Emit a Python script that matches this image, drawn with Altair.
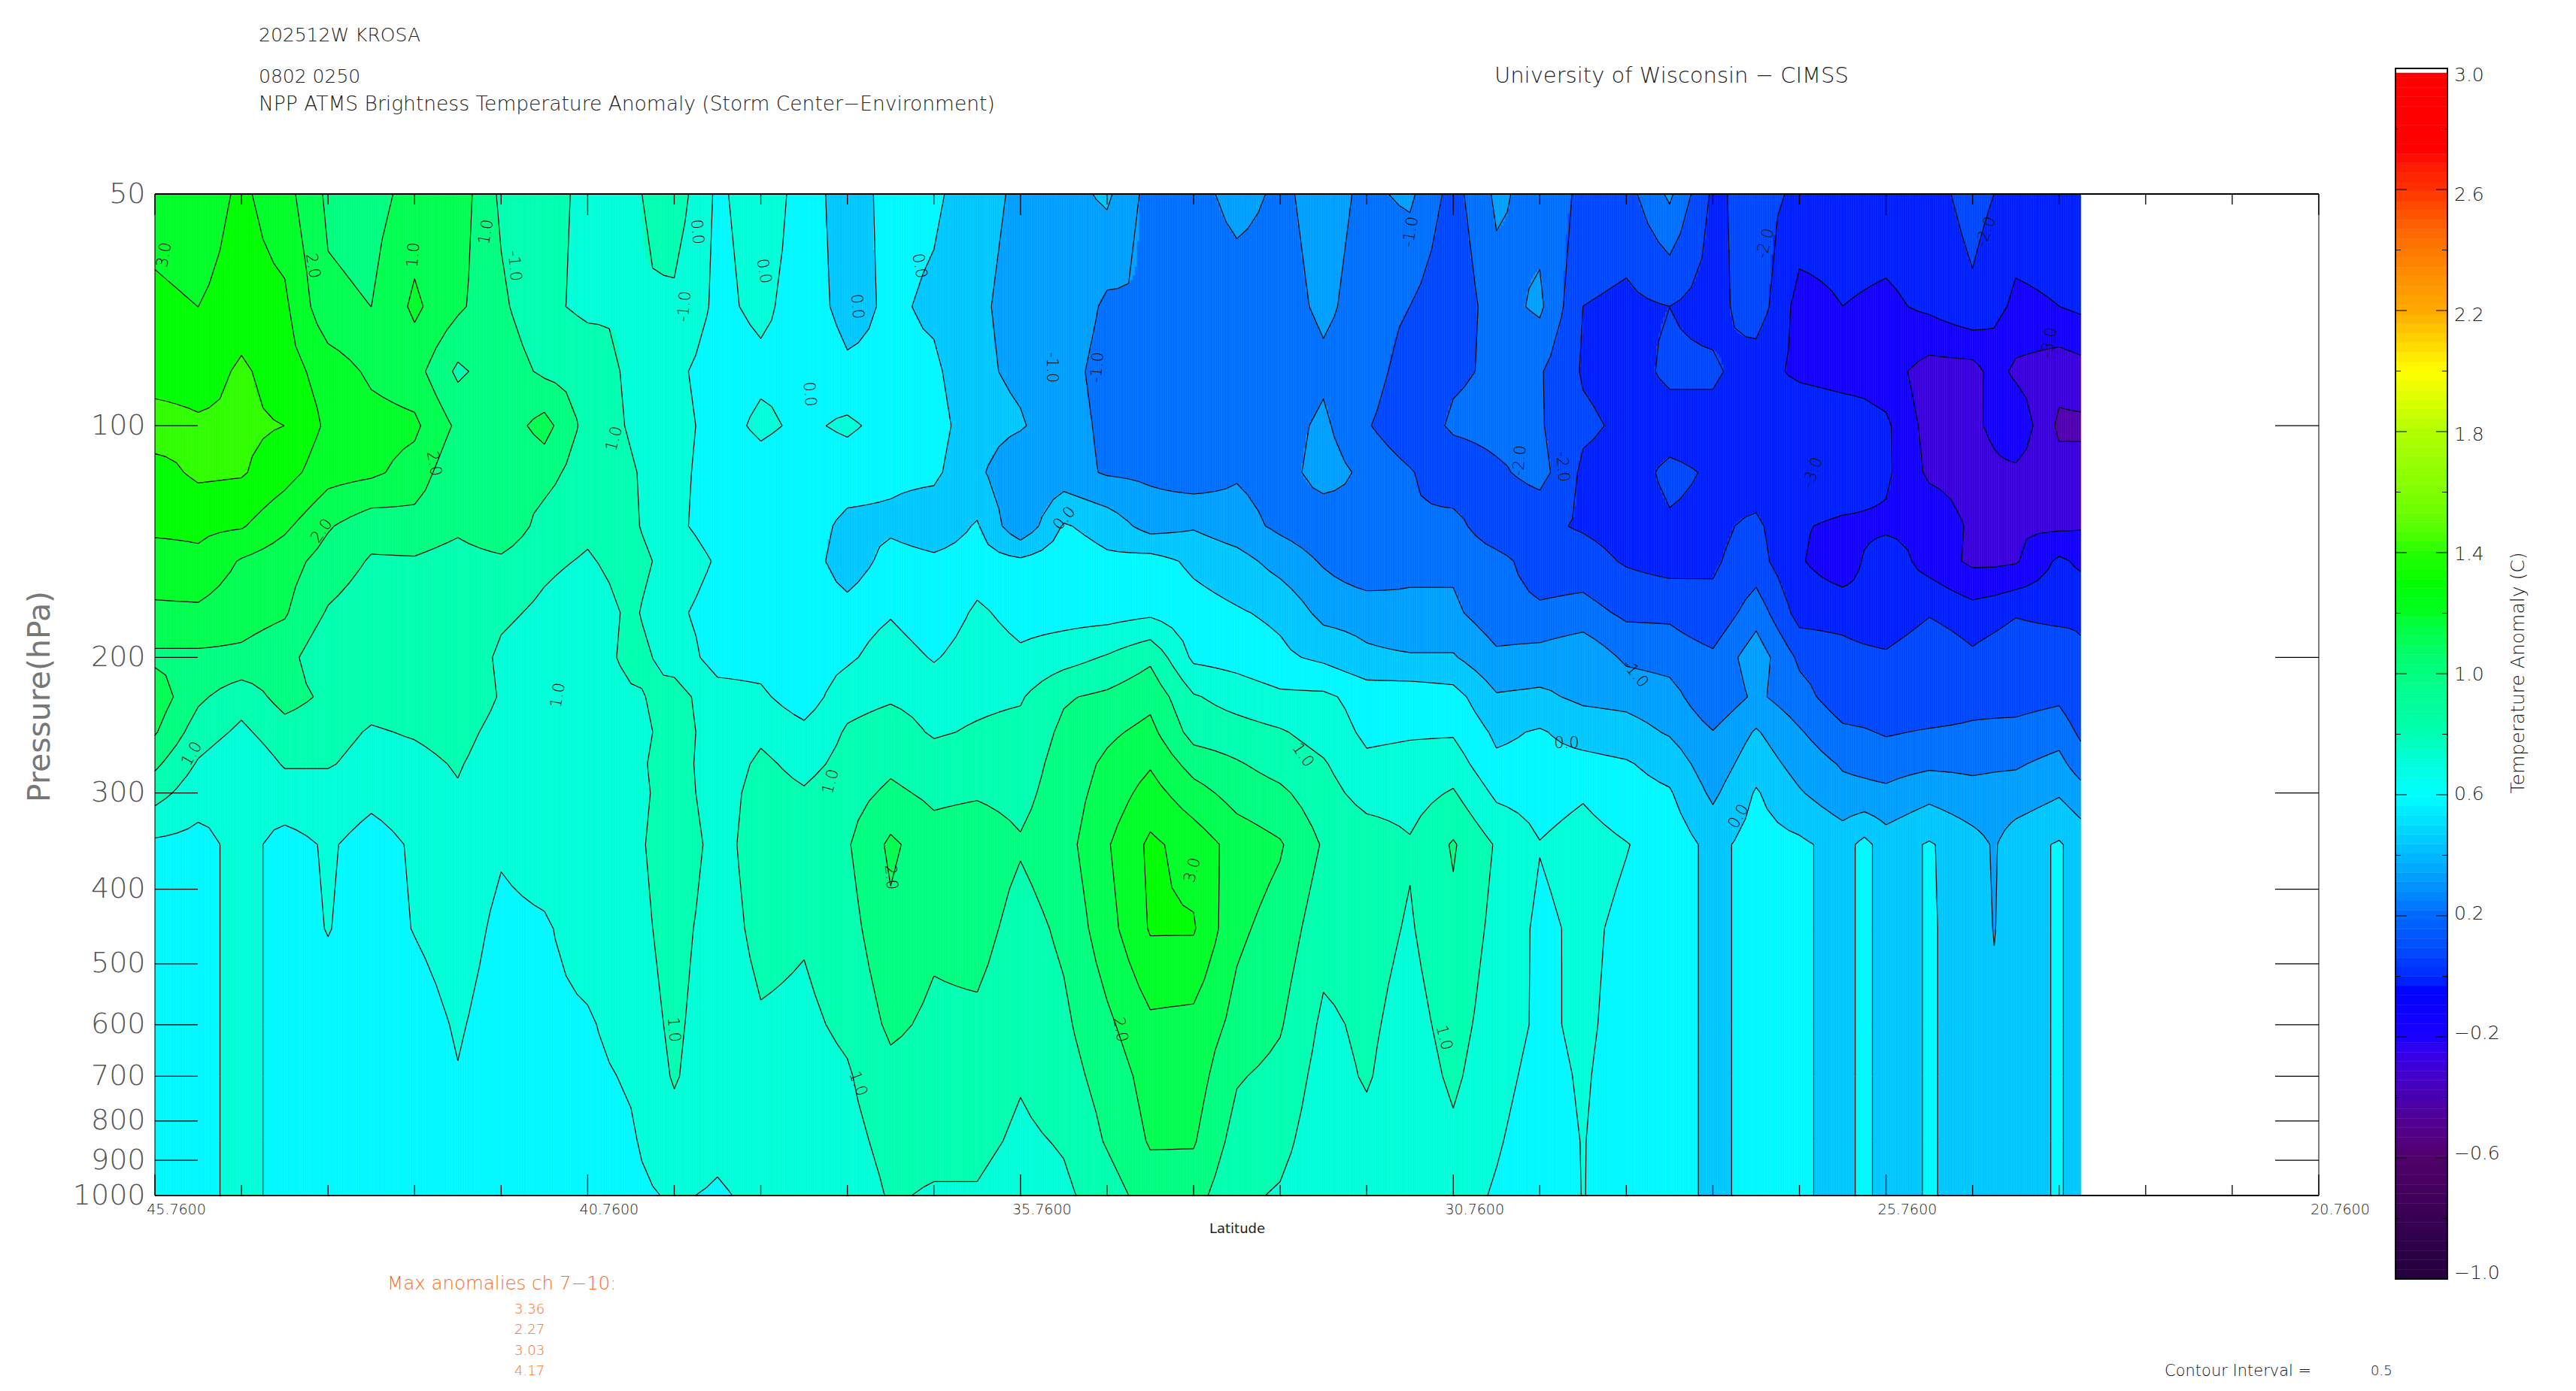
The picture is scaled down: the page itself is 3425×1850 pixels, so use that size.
import math
import altair as alt

alt.data_transformers.disable_max_rows()

# ---------- values ----------
LATS = [45.76 - 0.5 * i for i in range(40)] + [26.01, 25.76, 25.26, 24.76, 24.51, 24.26, 23.76, 23.51]
LEVELS = [50, 70, 85, 100, 115, 135, 150, 175, 200, 225, 250, 275, 300, 350, 450, 600, 700, 850, 1000]

P50 = [2.8,2.7,3.1,2.7,1.9,1.8,2.2,2.3,1.4,1.3,0.8,0.9,1.3,0.4,0.8,0.3,
       -0.3,0.2,0.1,-0.3,-0.6,-0.7,-0.4,-1.2,-1.2,-0.8,-1.1,-0.8,-1.1,-0.9,-1.7,-0.9,
       -1.2,-1.6,-1.7,-0.9,-2.1,-1.8,-2.1,-2.2,-2.2,-2.2,-2.2,-1.8,-2.0,-2.2,-2.2,-2.2]
P70 = [3.1,3.0,3.2,3.1,2.1,2.0,2.6,2.1,1.6,1.1,0.9,1.0,0.9,0.4,0.6,0.3,
       -0.2,0.1,-0.1,-0.4,-0.7,-0.6,-1.1,-1.0,-1.3,-1.3,-1.2,-0.9,-1.2,-1.5,-1.9,-1.2,
       -0.9,-2.0,-2.1,-2.0,-2.2,-1.7,-2.7,-2.5,-2.55,-2.6,-2.4,-2.1,-2.35,-2.6,-2.5,-2.4]
P85 = [3.2,3.2,3.6,3.2,2.8,2.4,2.2,1.4,1.8,1.4,1.3,0.9,0.6,0.3,0.4,0.45,
       0.1,0.1,0.1,-0.4,-0.6,-0.8,-1.2,-1.1,-1.4,-1.45,-1.4,-1.1,-1.2,-1.8,-1.6,-1.4,
       -1.45,-2.05,-2.2,-1.9,-1.9,-2.3,-2.6,-2.7,-2.7,-2.8,-3.2,-3.2,-2.8,-3.1,-3.3,-3.2]
P100 = [3.8,3.6,3.6,3.5,2.9,2.7,2.6,1.9,1.7,2.2,1.3,0.95,0.7,0.3,0.6,0.4,
        0.6,0.3,0.2,-0.3,-0.45,-0.8,-1.1,-1.3,-1.1,-1.1,-1.2,-0.9,-1.45,-1.9,-1.4,-1.3,
        -1.45,-1.9,-2.1,-2.2,-2.2,-2.45,-2.1,-2.2,-2.3,-2.4,-3.2,-3.1,-2.9,-2.6,-3.6,-3.6]
P115 = [3.3,3.6,3.55,3.2,2.7,2.6,2.3,1.6,1.6,1.7,1.2,1.05,0.7,0.2,0.3,0.2,
        0.2,0.1,0.1,-0.4,-0.9,-0.8,-1.05,-1.1,-1.3,-1.05,-1.2,-0.8,-1.1,-1.45,-1.9,-1.6,
        -1.3,-2.1,-2.2,-1.9,-2.05,-2.3,-2.1,-2.1,-2.25,-2.4,-3.1,-3.2,-3.1,-3.1,-3.3,-3.3]
P135 = [3.1,3.1,3.05,2.6,2.05,1.7,1.8,1.6,1.9,1.3,1.1,1.1,0.6,0.3,0.2,0.2,
        -0.1,-0.1,-0.3,0.05,-0.9,0.05,-0.2,-0.7,-0.55,-0.8,-1.1,-1.3,-1.05,-1.45,-1.3,-1.9,
        -1.9,-2.05,-2.2,-2.05,-2.1,-1.9,-2.45,-2.6,-2.6,-2.6,-2.6,-3.1,-3.05,-3.05,-3.1,-3.05]
P150 = [2.8,2.9,2.45,2.2,1.8,1.45,1.45,1.3,1.4,1.1,0.95,1.2,0.8,0.45,0.3,0.3,
        -0.3,0.2,0.1,0.2,0.1,0.3,0.1,0.2,-0.1,-0.3,-0.7,-1.05,-1.4,-1.1,-1.1,-1.3,
        -1.8,-1.8,-2.05,-2.2,-2.05,-1.8,-2.45,-2.8,-2.45,-2.2,-2.7,-3.1,-3.1,-3.05,-2.4,-2.6]
P175 = [2.4,2.4,2.2,2.05,1.45,1.2,1.4,1.3,1.1,0.9,0.7,1.1,0.6,0.3,0.3,0.3,
        0.2,0.45,0.1,0.6,0.3,0.3,0.3,0.4,0.2,0.05,-0.1,-0.65,-0.7,-0.9,-0.9,-1.3,
        -1.4,-1.3,-1.6,-1.6,-1.9,-1.2,-2.2,-2.2,-2.35,-2.45,-2.05,-2.3,-2.2,-2.05,-2.2,-2.1]
P200 = [1.9,1.9,1.9,1.7,1.1,1.05,1.05,1.4,0.9,0.7,0.6,1.2,0.8,0.3,0.3,0.2,
        0.4,0.8,0.45,0.8,0.6,0.8,1.05,1.4,0.4,0.3,0.1,-0.1,-0.4,-0.45,-0.45,-0.9,
        -0.8,-0.6,-1.1,-1.2,-1.4,-0.7,-1.6,-1.8,-1.85,-1.9,-1.55,-1.9,-1.75,-1.6,-1.55,-1.9]
P225 = [2.3,1.6,1.2,1.7,1.4,1.2,1.3,1.45,0.95,0.8,0.6,0.9,1.2,0.7,0.6,0.2,
        0.85,0.95,0.85,0.9,0.95,1.45,1.6,1.85,1.05,0.8,0.6,0.6,0.3,0.3,0.2,-0.45,
        -0.4,-0.6,-0.65,-0.8,-1.4,-0.9,-1.3,-1.8,-1.85,-1.9,-1.9,-1.7,-1.7,-1.7,-1.6,-1.9]
P250 = [2.05,1.25,0.9,1.3,1.2,0.95,1.05,1.2,0.8,0.7,0.8,0.7,1.3,0.7,0.9,0.65,
        1.05,1.2,0.95,1.05,1.15,1.6,1.9,2.15,1.3,1.2,1.05,0.8,0.4,0.45,0.45,-0.1,
        0.05,-0.2,-0.3,-0.55,-0.98,-0.45,-0.95,-1.4,-1.45,-1.55,-1.45,-1.4,-1.37,-1.35,-1.2,-1.6]
P275 = [1.6,0.95,0.6,1.05,1.05,0.8,0.85,1.05,0.7,0.6,0.7,0.85,1.25,0.7,1.1,0.85,
        1.15,1.4,1.2,1.3,1.25,1.7,2.1,2.45,1.8,1.55,1.3,1.05,0.6,0.65,0.75,0.1,
        0.15,0.15,0.05,-0.2,-0.8,-0.2,-0.7,-1.05,-1.12,-1.2,-1.1,-1.1,-1.07,-1.05,-0.85,-1.25]
P300 = [1.2,0.7,0.53,0.75,0.75,0.6,0.7,0.95,0.6,0.53,0.7,0.8,1.25,0.75,1.2,1.05,
        1.3,1.6,1.4,1.45,1.35,1.75,2.2,2.7,2.2,1.8,1.6,1.2,0.8,0.8,1.05,0.4,
        0.3,0.45,0.2,0.05,-0.6,0.05,-0.45,-0.85,-0.87,-0.9,-0.65,-0.85,-0.82,-0.8,-0.55,-0.8]
P350 = [.4,.35,.65,.35,.55,.35,.55,.75,.55,.7,.75,.8,1.4,.8,1.25,1.15,
        1.45,2.1,1.7,1.8,1.55,1.8,2.45,3.1,2.8,2.3,2.05,1.45,1.3,1.05,1.55,.95,
        .52,.7,.52,.3,-.15,.2,.1,-.2,.15,-.25,.05,-.3,-.55,-.2,.05,-.2]
P450 = [.3,.3,.7,.3,.52,.3,.52,.7,.4,.45,.7,.8,1.2,.75,1.15,1.05,
        1.3,1.9,1.6,1.7,1.3,1.6,2.3,3.05,3.05,2.1,1.8,1.2,1.2,.95,1.4,.85,
        .4,.6,.4,.3,-.15,.2,.1,-.2,.15,-.25,.05,-.2,-.52,-.2,.05,-.2]
P600 = [.3,.3,.7,.3,.3,.3,.3,.55,.3,.4,.45,.7,1.1,.7,.95,.9,
        1.1,1.6,1.4,1.4,1.15,1.4,1.9,2.4,2.35,1.85,1.55,.9,1.1,.8,1.2,.75,
        .42,.58,.35,.3,-.15,.2,.1,-.2,.15,-.25,.05,-.2,-.4,-.2,.05,-.2]
P700 = [.3,.3,.7,.3,.3,.3,.3,.48,.3,.35,.4,.55,1.05,.65,.8,.8,
        .95,1.35,1.3,1.3,1.05,1.3,1.7,2.2,2.25,1.55,1.35,.8,1.05,.7,1.1,.65,
        .35,.55,.3,.3,-.15,.2,.1,-.2,.15,-.25,.05,-.2,-.3,-.2,.05,-.2]
P850 = [.3,.3,.7,.3,.3,.3,.3,.3,.3,.3,.3,.45,.8,.6,.7,.7,
        .85,1.15,1.15,1.15,.9,1.05,1.55,2.05,2.05,1.3,1.15,.7,.85,.65,.9,.55,
        .25,.52,.25,.3,-.15,.2,.1,-.2,.15,-.25,.05,-.2,-.25,-.2,.05,-.2]
P1000 = [.3,.3,.7,.3,.3,.3,.3,.3,.3,.3,.3,.4,.55,.45,.6,.55,
         .7,1.05,.95,.95,.7,.9,1.25,1.75,1.7,1.1,.95,.65,.7,.6,.7,.45,
         .1,.52,.2,.3,-.15,.2,.1,-.2,.15,-.25,.05,-.2,-.22,-.2,.05,-.2]
GRID = [P50,P70,P85,P100,P115,P135,P150,P175,P200,P225,P250,P275,P300,P350,P450,P600,P700,P850,P1000]
for r in GRID:
    assert len(r) == len(LATS)

BAND_COLORS = ["#5000b0","#3a00dd","#1400ff","#0020ff","#0048ff","#0070ff","#00a0ff","#00c8ff",
               "#00f8ff","#00ffd8","#00ffb0","#00ff80","#00ff50","#00ff28","#00ff00","#30ff00"]

CB_VALS = [-1.0,-0.6,-0.4,-0.2,-0.05,0.2,0.4,0.6,0.8,1.0,1.2,1.3,1.4,1.8,2.0,2.2,2.6,2.72,3.0]
CB_COLS = ["#000000","#50006a","#4800b0","#1800ff","#0000ff","#0068ff","#00b8ff","#00ffff","#00ffb0",
           "#00ff80","#00ff20","#00ff00","#20ff00","#b0ff00","#ffff00","#ffaa00","#ff3000","#ff0000","#ff0000"]
CB_MAJOR = [3.0,2.6,2.2,1.8,1.4,1.0,0.6,0.2,-0.2,-0.6,-1.0]
CB_MINOR = [2.8,2.4,2.0,1.6,1.2,0.8,0.4,0.0,-0.4,-0.8]

Y_TICKS = [100,200,300,400,500,600,700,800,900]
Y_LABELS = [50,100,200,300,400,500,600,700,800,900,1000]
X_MAJOR = [45.76,40.76,35.76,30.76,25.76,20.76]
X_MINOR = [45.76 - i for i in range(26) if i % 5]

CONTOUR_LABELS = [
    (45.65,60,"3.0",280),(43.94,62,"2.0",80),(42.77,60,"1.0",275),(41.93,56,"1.0",280),(41.61,62,"-1.0",85),
    (39.50,56,"0.0",85),(39.64,70,"-1.0",275),(38.73,63,"0.0",80),(36.93,62,"0.0",80),(37.65,70,"0.0",85),
    (38.2,91,"0.0",85),(42.54,112,"2.0",80),(43.83,137,"2.0",305),(40.45,104,"1.0",285),(41.1,224,"1.0",280),
    (45.33,267,"1.0",300),(37.95,290,"1.0",285),(37.26,386,"2.0",85),(33.77,378,"3.0",285),(34.61,609,"2.0",80),
    (37.64,716,"1.0",70),(30.87,624,"1.0",75),(32.50,268,"1.0",55),(29.45,259,"0.0",0),(27.46,322,"0.0",300),
    (39.77,609,"1.0",85),(35.25,132,"0.0",310),(35.40,84,"-1.0",90),(34.87,84,"-1.0",275),(31.25,56,"-1.0",280),
    (27.15,58,"-2.0",285),(24.6,56,"-2.0",290),(29.99,111,"-2.0",275),(29.5,113,"-2.0",85),(26.6,115,"-3.0",290),
    (23.87,78,"-3.0",280),(28.66,210,"-1.0",50),
]

TEXTS = [
    ("202512W KROSA",344,47,25,"#222222","left",0),
    ("0802 0250",344,102,25,"#222222","left",0),
    ("NPP ATMS Brightness Temperature Anomaly (Storm Center\u2212Environment)",344,139,26.5,"#222222","left",0),
    ("University of Wisconsin \u2212 CIMSS",1987,101,29,"#222222","left",0),
    ("Max anomalies ch 7\u221210:",515,1708,24.5,"#ff6a20","left",0),
    ("3.36",684,1742,18,"#ff6a20","left",0),
    ("2.27",684,1769,18,"#ff6a20","left",0),
    ("3.03",684,1797,18,"#ff6a20","left",0),
    ("4.17",684,1824,18,"#ff6a20","left",0),
    ("Contour Interval =",2878,1824,21,"#111111","left",0),
    ("0.5",3152,1824,18,"#111111","left",0),
    ("Temperature Anomaly (C)",3348,895,25,"#222222","center",270),
]

# ---------- layout ----------
W, H = 2877, 1332
L0, T0 = 206, 258
FONT = "DejaVu Sans"
xs = alt.Scale(domain=[45.76, 20.76], nice=False, zero=False)
ys = alt.Scale(type="log", base=10, domain=[50, 1000], reverse=True, nice=False)

# ---------- fill bands and contour segments from the grid ----------
def band(v):
    return max(0, min(15, int(math.floor((v + 4) / 0.5))))

LP = [math.log2(p) for p in LEVELS]

def profile(lat):
    for i in range(len(LATS) - 1):
        if LATS[i + 1] <= lat <= LATS[i]:
            t = (LATS[i] - lat) / (LATS[i] - LATS[i + 1])
            return [r[i] * (1 - t) + r[i + 1] * t for r in GRID]
    return [r[-1] for r in GRID]

strips = []
dl = 0.025
n = int(round((LATS[0] - LATS[-1]) / dl))
for s in range(n):
    a = LATS[0] - s * dl
    b = a - dl
    vals = profile((a + b) / 2)
    runs = []
    start = LP[0]
    for j in range(len(LP) - 1):
        v0, v1 = vals[j], vals[j + 1]
        k0, k1 = band(v0), band(v1)
        if k0 != k1:
            step = 1 if k1 > k0 else -1
            k = k0
            while k != k1:
                th = -4 + 0.5 * (k + 1 if step > 0 else k)
                f = (th - v0) / (v1 - v0)
                yy = LP[j] + f * (LP[j + 1] - LP[j])
                runs.append((start, yy, k))
                start = yy
                k += step
    runs.append((start, LP[-1], band(vals[-1])))
    for y0, y1, k in runs:
        strips.append({"a": round(a, 3), "b": round(b, 3), "p": round(2 ** y0, 2), "q": round(2 ** y1, 2), "k": k})

segs = []
SUB = 4
sub_lats = []
for i in range(len(LATS) - 1):
    for m in range(SUB):
        sub_lats.append(LATS[i] + (LATS[i + 1] - LATS[i]) * m / SUB)
sub_lats.append(LATS[-1])
sub_prof = [profile(l) for l in sub_lats]
THS = [-4 + 0.5 * i + 0.0013 for i in range(17)]
for ci in range(len(sub_lats) - 1):
    la, lb = sub_lats[ci], sub_lats[ci + 1]
    pa, pb = sub_prof[ci], sub_prof[ci + 1]
    for j in range(len(LP) - 1):
        q = (pa[j], pb[j], pb[j + 1], pa[j + 1])
        lo, hi = min(q), max(q)
        corners = [(la, LP[j]), (lb, LP[j]), (lb, LP[j + 1]), (la, LP[j + 1])]
        for th in THS:
            if not (lo < th < hi):
                continue
            pts = []
            for e in range(4):
                u, w = q[e], q[(e + 1) % 4]
                if (u < th) != (w < th):
                    f = (th - u) / (w - u)
                    c0, c1 = corners[e], corners[(e + 1) % 4]
                    pts.append((c0[0] + f * (c1[0] - c0[0]), c0[1] + f * (c1[1] - c0[1])))
            for m in range(0, len(pts) - 1, 2):
                segs.append({"x": round(pts[m][0], 3), "x2": round(pts[m + 1][0], 3),
                             "y": round(2 ** pts[m][1], 2), "y2": round(2 ** pts[m + 1][1], 2)})

# ---------- layers ----------
band_scale = alt.Scale(domain=list(range(16)), range=BAND_COLORS)
fill = alt.Chart(alt.Data(values=strips)).mark_rect(strokeWidth=0.6).encode(
    x=alt.X("a:Q", scale=xs, axis=alt.Axis(values=X_MAJOR, format=".4f", ticks=False, grid=False, domain=False,
                                           labelFontSize=19, labelPadding=9, labelOffset=28, labelColor="#222222",
                                           labelFont=FONT, labelFontWeight=200, labelOverlap=False, labelFlush=False,
                                           labelBound=False, labelAngle=0,
                                           title="Latitude", titleFontSize=18, titleFontWeight="normal",
                                           titleFont=FONT, titleColor="#222222", titlePadding=7)),
    x2="b:Q",
    y=alt.Y("p:Q", scale=ys, axis=alt.Axis(values=Y_LABELS, format="d", ticks=False, grid=False, domain=False,
                                           labelFontSize=38, labelPadding=13, labelColor="#555555",
                                           labelFont=FONT, labelFontWeight=200, labelOverlap=False,
                                           labelBound=False, labelFlush=False,
                                           title="Pressure(hPa)", titleFontSize=41, titleFontWeight="normal",
                                           titleFont=FONT, titleColor="#777777", titleX=-132, titleY=H / 2 + 2)),
    y2="q:Q",
    fill=alt.Fill("k:N", scale=band_scale, legend=None),
    stroke=alt.Stroke("k:N", scale=band_scale, legend=None),
)

lines = alt.Chart(alt.Data(values=segs)).mark_rule(color="#000000", strokeWidth=1.2).encode(
    x=alt.X("x:Q", scale=xs, axis=None), x2="x2:Q",
    y=alt.Y("y:Q", scale=ys, axis=None), y2="y2:Q",
)

clab = alt.Chart(alt.Data(values=[{"lat": a, "p": b, "t": c, "ang": d} for a, b, c, d in CONTOUR_LABELS])).mark_text(
    font=FONT, fontSize=21, fontWeight=200, color="#111111"
).encode(
    x=alt.X("lat:Q", scale=xs, axis=None),
    y=alt.Y("p:Q", scale=ys, axis=None),
    text="t:N",
    angle=alt.Angle("ang:Q", scale=None),
)

ytick_data = alt.Data(values=[{"p": p} for p in Y_TICKS])
ytl = alt.Chart(ytick_data).mark_rule(color="black", strokeWidth=1.3).encode(
    y=alt.Y("p:Q", scale=ys, axis=None), x=alt.value(0), x2=alt.value(57))
ytr = alt.Chart(ytick_data).mark_rule(color="black", strokeWidth=1.3).encode(
    y=alt.Y("p:Q", scale=ys, axis=None), x=alt.value(W - 58), x2=alt.value(W))

def xticks(vals, y0, y1):
    return alt.Chart(alt.Data(values=[{"l": v} for v in vals])).mark_rule(color="black", strokeWidth=1.3).encode(
        x=alt.X("l:Q", scale=xs, axis=None), y=alt.value(y0), y2=alt.value(y1))

xt = [xticks(X_MAJOR, H, H - 28), xticks(X_MINOR, H, H - 14), xticks(X_MAJOR, 0, 28), xticks(X_MINOR, 0, 14)]

def frame(x0, y0, x1, y1, sw):
    return alt.Chart(alt.Data(values=[{}])).mark_rule(color="black", strokeWidth=sw).encode(
        x=alt.value(x0), x2=alt.value(x1), y=alt.value(y0), y2=alt.value(y1))

frames = [frame(0, 0, W, 0, 2.2), frame(0, H, W, H, 2.2), frame(0, 0, 0, H, 1), frame(W, 0, W, H, 1)]

# colour bar
cbs = alt.Scale(domain=[-1, 3], range=[1701 - T0, 91 - T0], nice=False, zero=False)
cbl = alt.Scale(domain=[-1, 3], range=[1693 - T0, 100 - T0], nice=False, zero=False)
cb_fill = alt.Scale(domain=CB_VALS, range=CB_COLS)
CBX0, CBX1 = 3185 - L0, 3254 - L0
step = 4 / 128
edges = [-1 + i * step for i in range(128)]
cb_rows = [{"v0": e, "v1": min(e + step, 2.985), "c": e + step / 2} for e in edges if e < 2.985]
cb = alt.Chart(alt.Data(values=cb_rows)).mark_rect(strokeWidth=0.5).encode(
    y=alt.Y("v0:Q", scale=cbs, axis=None), y2="v1:Q",
    x=alt.value(CBX0), x2=alt.value(CBX1),
    fill=alt.Fill("c:Q", scale=cb_fill, legend=None),
    stroke=alt.Stroke("c:Q", scale=cb_fill, legend=None),
)
cb_box = alt.Chart(alt.Data(values=[{"a": -1, "b": 3}])).mark_rect(fillOpacity=0, stroke="black", strokeWidth=1.8).encode(
    y=alt.Y("a:Q", scale=cbs, axis=None), y2="b:Q", x=alt.value(CBX0), x2=alt.value(CBX1))

def cb_ticks(vals, x0, x1):
    return alt.Chart(alt.Data(values=[{"v": v} for v in vals])).mark_rule(color="black", strokeWidth=1).encode(
        y=alt.Y("v:Q", scale=cbs, axis=None), x=alt.value(x0), x2=alt.value(x1))

cb_t = [cb_ticks(CB_MAJOR[1:-1], CBX0, CBX0 + 15), cb_ticks(CB_MAJOR[1:-1], CBX1 - 15, CBX1),
        cb_ticks(CB_MINOR, CBX0, CBX0 + 7), cb_ticks(CB_MINOR, CBX1 - 7, CBX1)]
cb_lab = alt.Chart(alt.Data(values=[{"v": v, "t": ("%.1f" % v).replace("-", "\u2212")} for v in CB_MAJOR])).mark_text(
    font=FONT, fontSize=25, fontWeight=200, color="#222222", align="left", baseline="middle"
).encode(
    y=alt.Y("v:Q", scale=cbl, axis=None), x=alt.value(3263 - L0), text="t:N")

texts = []
for t, x, y, size, col, al, ang in TEXTS:
    texts.append(alt.Chart(alt.Data(values=[{}])).mark_text(
        font=FONT, fontSize=size, fontWeight=200, color=col, align=al, baseline="middle", angle=ang
    ).encode(x=alt.value(x - L0), y=alt.value(y - T0), text=alt.value(t)))

chart = alt.layer(
    fill, lines, clab, ytl, ytr, *xt, *frames, cb, cb_box, *cb_t, cb_lab, *texts
).resolve_scale(x="independent", y="independent", fill="independent", stroke="independent").properties(
    width=W, height=H,
    autosize=alt.AutoSizeParams(type="none"),
    padding={"left": L0 - 8, "top": T0 - 8, "right": 320, "bottom": 255},
    background="white",
).configure_view(strokeWidth=0)

chart.save("out.html", embed_options={"renderer": "svg", "actions": False})
